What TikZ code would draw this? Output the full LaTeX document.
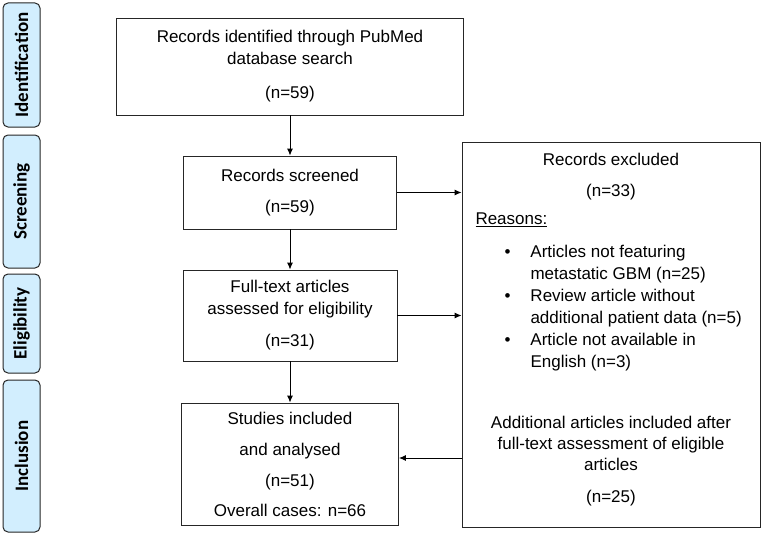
\documentclass[tikz,border=0pt]{standalone}
\usepackage{fontspec}
\setmainfont{Liberation Sans}
\newfontfamily\tabfont{Carlito}
\usepackage{xcolor}
\usetikzlibrary{positioning, arrows.meta}

\definecolor{tabblue}{RGB}{210,238,254}

\tikzset{
  box/.style={draw=black!85, line width=0.8pt, align=center, inner sep=0pt},
  stage/.style={draw=black!85, line width=1pt, fill=tabblue, rounded corners=5pt,
    minimum height=37pt, inner sep=0pt, rotate=90,
    font=\tabfont\bfseries\fontsize{19}{21}\selectfont},
  txt/.style={inner sep=0pt, align=center}
}

\begin{document}
\begin{tikzpicture}[x=1pt, y=-1pt, ->, >={Latex[length=7pt,width=6pt]}, line width=1pt,
    font=\fontsize{17}{22}\selectfont]
  \useasboundingbox (0,0) rectangle (762,535);

  % stage tabs
  \node[stage, minimum width=124pt] (ident) at (21.5,65) {Identification};
  \node[stage, minimum width=133pt] (screen) at (21.5,201.5) {Screening};
  \node[stage, minimum width=99pt] (elig) at (21.5,323.5) {Eligibility};
  \node[stage, minimum width=152pt] (incl) at (21.5,456) {Inclusion};

  % main flow
  \node[box, minimum width=347pt, minimum height=97pt] (top) at (290,66.5)
    {Records identified through PubMed\\database search\\[12pt](n=59)};
  \node[box, minimum width=213pt, minimum height=73pt] (scr) at (290,192.5)
    {Records screened\\[9pt](n=59)};
  \node[box, minimum width=214pt, minimum height=91pt] (full) at (290,315.5)
    {Full-text articles\\assessed for eligibility\\[10pt](n=31)};
  \node[box, minimum width=217pt, minimum height=122pt] (stud) at (290,464)
    {Studies included\\[9pt]and analysed\\[9pt](n=51)\\[8pt]Overall cases: n=66};

  % excluded records
  \node[box, minimum width=298pt, minimum height=385pt] (excl) at (611,334.5) {};
  \node[txt] (exclTitle) at (611,159) {Records excluded};
  \node[txt] (exclN) at (611,192) {(n=33)};
  \node[txt, anchor=west] (reasons) at (475,220) {\underline{Reasons:}};
  \node[txt, align=left, anchor=north west] (reasonList) at (530,245)
    {\llap{\textbullet\hspace{20pt}}Articles not featuring\\
     metastatic GBM (n=25)\\
     \llap{\textbullet\hspace{20pt}}Review article without\\
     additional patient data (n=5)\\
     \llap{\textbullet\hspace{20pt}}Article not available in\\
     English (n=3)};
  \node[txt, font=\fontsize{17}{21}\selectfont] (added) at (611,461)
    {Additional articles included after\\full-text assessment of eligible\\articles\\[11pt](n=25)};

  \coordinate (back) at (462,458);

  \draw (top) -- (scr);
  \draw (scr) -- (full);
  \draw (full) -- (stud);
  \draw (scr.east) -- (scr.east -| excl.west);
  \draw (full.east) -- (full.east -| excl.west);
  \draw (back) -- (back -| stud.east);
\end{tikzpicture}
\end{document}
